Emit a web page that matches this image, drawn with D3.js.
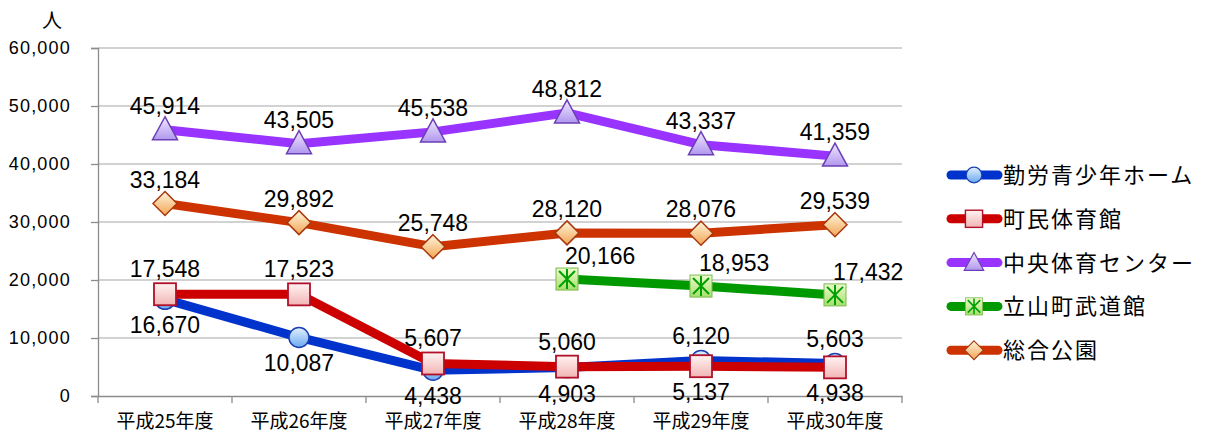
<!DOCTYPE html>
<html>
<head>
<meta charset="utf-8">
<script src="https://cdn.jsdelivr.net/npm/d3@7"></script>
<style>
  body { margin: 0; background: #fff; }
  svg { display: block; }
</style>
</head>
<body>
<div id="chart"></div>
<script>
// data
var years = ["平成25年度", "平成26年度", "平成27年度", "平成28年度", "平成29年度", "平成30年度"];
var seriesNames = ["勤労青少年ホーム", "町民体育館", "中央体育センター", "立山町武道館", "総合公園"];
var kinro   = [16670, 10087, 4438, 4903, 6120, 5603];
var chomin  = [17548, 17523, 5607, 5060, 5137, 4938];
var chuo    = [45914, 43505, 45538, 48812, 43337, 41359];
var budokan = [null, null, null, 20166, 18953, 17432];
var sogo    = [33184, 29892, 25748, 28120, 28076, 29539];
var yTicks  = [0, 10000, 20000, 30000, 40000, 50000, 60000];

var width = 1205, height = 435;
var plotL = 98, plotR = 902, plotT = 48, plotB = 396;

var svg = d3.select("#chart").append("svg")
    .attr("width", width)
    .attr("height", height);

var defs = svg.append("defs");
function grad(id, c1, c2) {
    var g = defs.append("linearGradient").attr("id", id)
        .attr("x1", 0).attr("y1", 0).attr("x2", 0).attr("y2", 1);
    g.append("stop").attr("offset", "0%").attr("stop-color", c1);
    g.append("stop").attr("offset", "100%").attr("stop-color", c2);
}
grad("gBlue", "#e2f1ff", "#6aa8f0");
grad("gRed", "#fff4f2", "#f2b4b4");
grad("gPurple", "#f1e9ff", "#b197ee");
grad("gGreen", "#ecfccc", "#a6df6c");
grad("gOrange", "#fff6dc", "#f2a455");

var x = d3.scaleBand().domain(years).range([plotL, plotR]);
var y = d3.scaleLinear().domain([0, 60000]).range([plotB, plotT]);
function cx(i) { return x(years[i]) + x.bandwidth() / 2; }

// gridlines
svg.append("g").selectAll("line")
    .data(yTicks.slice(1))
    .enter().append("line")
    .attr("x1", plotL).attr("x2", plotR)
    .attr("y1", function(d) { return y(d); })
    .attr("y2", function(d) { return y(d); })
    .attr("stroke", "#a6a6a6").attr("stroke-width", 1.2);

// y axis
var yAxis = svg.append("g")
    .attr("transform", "translate(" + plotL + ",0)")
    .call(d3.axisLeft(y).tickValues(yTicks).tickSize(7).tickPadding(20).tickFormat(d3.format(",")));
yAxis.select(".domain").attr("stroke", "#8c8c8c").attr("stroke-width", 1.3);
yAxis.selectAll(".tick line").attr("stroke", "#8c8c8c").attr("stroke-width", 1.3);
yAxis.selectAll("text")
    .attr("fill", "#000")
    .style("font-family", "'Liberation Sans', Arial, sans-serif")
    .style("font-size", "18px")
    .style("letter-spacing", "1.2px");

// x axis
var xAxis = svg.append("g")
    .attr("transform", "translate(0," + plotB + ")")
    .call(d3.axisBottom(x).tickSize(0).tickPadding(19));
xAxis.select(".domain").attr("stroke", "#8c8c8c").attr("stroke-width", 1.3);
xAxis.selectAll("text")
    .attr("fill", "#000")
    .style("font-family", "'Noto Sans CJK JP', sans-serif")
    .style("font-size", "19px");
xAxis.selectAll(".edge")
    .data(years.map(function(d) { return x(d); }).concat([plotR]))
    .enter().append("line")
    .attr("x1", function(d) { return d; }).attr("x2", function(d) { return d; })
    .attr("y1", 0).attr("y2", 7)
    .attr("stroke", "#8c8c8c").attr("stroke-width", 1.3);

// unit label
svg.append("text")
    .attr("x", 52).attr("y", 28)
    .attr("text-anchor", "middle")
    .style("font-family", "'Noto Sans CJK JP', sans-serif")
    .style("font-size", "20px")
    .text("人");

// marker shapes
function drawMarker(g, type) {
    if (type == "circle") {
        g.append("circle").attr("r", 10)
            .attr("fill", "url(#gBlue)").attr("stroke", "#1c3fb0").attr("stroke-width", 1.5);
    } else if (type == "square") {
        g.append("rect").attr("x", -11).attr("y", -11).attr("width", 22).attr("height", 22)
            .attr("fill", "url(#gRed)").attr("stroke", "#b0102a").attr("stroke-width", 1.8);
    } else if (type == "triangle") {
        g.append("path").attr("d", "M0,-13L12.5,10L-12.5,10Z")
            .attr("fill", "url(#gPurple)").attr("stroke", "#6b3fb5").attr("stroke-width", 1.5);
    } else if (type == "star") {
        g.append("rect").attr("x", -11).attr("y", -11).attr("width", 22).attr("height", 22)
            .attr("fill", "url(#gGreen)").attr("stroke", "#7cb850").attr("stroke-width", 1);
        g.append("path").attr("d", "M-8,-8L8,8M8,-8L-8,8M0,-10L0,10")
            .attr("stroke", "#00a000").attr("stroke-width", 2);
    } else if (type == "diamond") {
        g.append("path").attr("d", "M0,-12L12,0L0,12L-12,0Z")
            .attr("fill", "url(#gOrange)").attr("stroke", "#a8380e").attr("stroke-width", 1.5);
    }
}

var series = [
    { name: seriesNames[0], values: kinro,   color: "#0033cc", marker: "circle" },
    { name: seriesNames[1], values: chomin,  color: "#cc0000", marker: "square" },
    { name: seriesNames[2], values: chuo,    color: "#9933ff", marker: "triangle" },
    { name: seriesNames[3], values: budokan, color: "#009900", marker: "star" },
    { name: seriesNames[4], values: sogo,    color: "#cc3300", marker: "diamond" }
];

var line = d3.line()
    .defined(function(d) { return d != null; })
    .x(function(d, i) { return cx(i); })
    .y(function(d) { return y(d); });

series.forEach(function(s) {
    var g = svg.append("g");
    g.append("path")
        .attr("d", line(s.values))
        .attr("fill", "none")
        .attr("stroke", s.color)
        .attr("stroke-width", 9)
        .attr("stroke-linejoin", "round");
    s.values.forEach(function(v, i) {
        if (v == null) return;
        var m = g.append("g").attr("transform", "translate(" + cx(i) + "," + y(v) + ")");
        drawMarker(m, s.marker);
    });
});

// data labels
var labels = svg.append("g")
    .style("font-family", "'Liberation Sans', Arial, sans-serif")
    .style("font-size", "23px")
    .attr("fill", "#000");
var fmt = d3.format(",");
series.forEach(function(s, si) {
    s.values.forEach(function(v, i) {
        if (v == null) return;
        var px = cx(i), py = y(v);
        var t = labels.append("text").text(fmt(v));
        if (si == 3) {
            t.attr("x", px - 2).attr("y", py - 15).attr("text-anchor", "start");
        } else if (si <= 1) {
            // blue and red sit close together: the larger gets the label on top
            var other = si == 0 ? chomin[i] : kinro[i];
            if (v >= other) t.attr("x", px).attr("y", py - 17).attr("text-anchor", "middle");
            else t.attr("x", px).attr("y", py + 34).attr("text-anchor", "middle");
        } else {
            t.attr("x", px).attr("y", py - 16).attr("text-anchor", "middle");
        }
    });
});

// legend
var legend = svg.append("g");
series.forEach(function(s, i) {
    var ly = 175 + i * 43.8;
    var g = legend.append("g").attr("transform", "translate(0," + ly + ")");
    g.append("line").attr("x1", 951).attr("x2", 998).attr("y1", 0).attr("y2", 0)
        .attr("stroke", s.color).attr("stroke-width", 9).attr("stroke-linecap", "round");
    var m = g.append("g").attr("transform", "translate(974,0) scale(0.78)");
    drawMarker(m, s.marker);
    g.append("text").attr("x", 1003).attr("y", 8)
        .style("font-family", "'Noto Sans CJK JP', sans-serif")
        .style("font-size", "22px")
        .style("letter-spacing", "2px")
        .text(s.name);
});
</script>
</body>
</html>
